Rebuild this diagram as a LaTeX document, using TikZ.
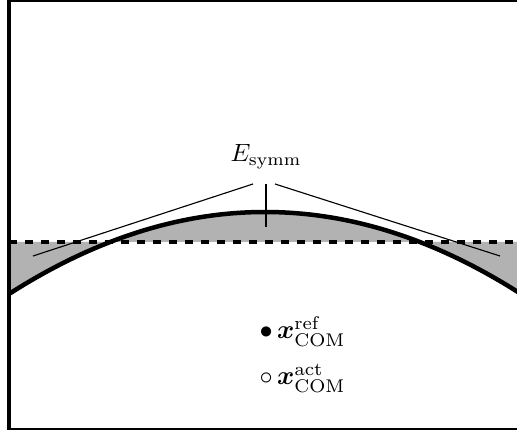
\documentclass[tikz,border=0pt]{standalone}
\usepackage{amsmath,amssymb}
\begin{document}
\begin{tikzpicture}[x=0.4pt,y=-0.4pt,
  frame/.style={line width=1.8pt},
  thickarc/.style={line width=1.8pt},
  dashline/.style={line width=1.7pt,dash pattern=on 3.2pt off 3.2pt},
  pointer/.style={line width=0.45pt},
  shade/.style={fill=black!30},
  lbl/.style={inner sep=0pt}]
\useasboundingbox (0,0) rectangle (517,430);
% gray region between parabola and dashed line
\fill[shade] plot[domain=9:521,samples=120] (\x,{212+0.00125*(\x-265)*(\x-265)}) -- (521,242) -- (9,242) -- cycle;
% label and pointers
\node[lbl,anchor=base] (E) at (266,162) {$E_{\mathrm{symm}}$};
\coordinate (pl0) at (253,184);
\coordinate (pc0) at (266,184);
\coordinate (pr0) at (275,184);
\coordinate (pl1) at (33,256);
\coordinate (pc1) at (266,227);
\coordinate (pr1) at (500,256);
\draw[pointer] (pl0) -- (pl1);
\draw[pointer] (pc0) -- (pc1);
\draw[pointer] (pr0) -- (pr1);
% dashed line
\coordinate (dl) at (9,242);
\coordinate (dr) at (521,242);
\draw[dashline] (dl) -- (dr);
% arc
\draw[thickarc] plot[domain=9:521,samples=120] (\x,{212+0.00125*(\x-265)*(\x-265)});
% frame
\draw[frame] (9,0) rectangle (519,430);
% COM labels
\node[lbl,anchor=base west,scale=1.05] (ref) at (259,339) {$\bullet\,\boldsymbol{x}^{\mathrm{ref}}_{\mathrm{COM}}$};
\node[lbl,anchor=base west,scale=1.05] (act) at (259,385) {$\circ\,\boldsymbol{x}^{\mathrm{act}}_{\mathrm{COM}}$};
\end{tikzpicture}
\end{document}
